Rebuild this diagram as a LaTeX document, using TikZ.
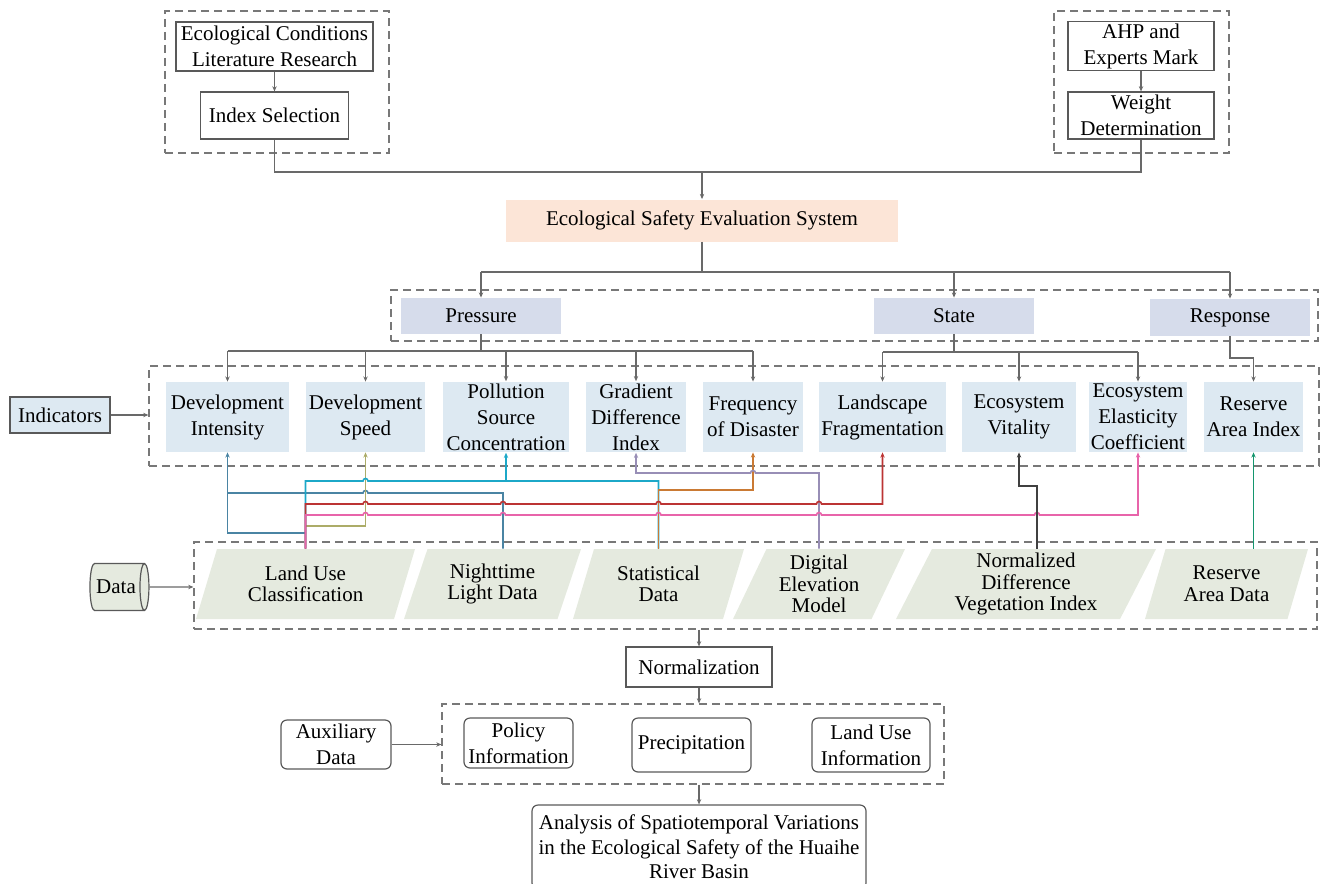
\documentclass[tikz,border=0pt]{standalone}
\usepackage{fontspec}
\setmainfont{Liberation Serif}
\usetikzlibrary{arrows.meta}
\usetikzlibrary{shapes.geometric}

\definecolor{boxgray}{RGB}{89,89,89}
\definecolor{dashgray}{RGB}{120,120,120}
\definecolor{wiregray}{RGB}{105,105,105}
\definecolor{peach}{RGB}{252,229,215}
\definecolor{psrfill}{RGB}{214,220,235}
\definecolor{indfill}{RGB}{221,233,242}
\definecolor{datafill}{RGB}{229,234,223}
\definecolor{steelc}{RGB}{74,132,163}
\definecolor{olivec}{RGB}{172,172,104}
\definecolor{cyanc}{RGB}{28,168,200}
\definecolor{orangec}{RGB}{202,122,52}
\definecolor{lavc}{RGB}{152,142,182}
\definecolor{redc}{RGB}{188,52,52}
\definecolor{pinkc}{RGB}{232,100,170}
\definecolor{darkc}{RGB}{64,64,64}
\definecolor{greenc}{RGB}{20,150,110}

\newcommand{\boxfont}{\fontsize{10.5}{13}\selectfont}
\newcommand{\datafont}{\fontsize{10.5}{10.8}\selectfont}
% small bump where a horizontal wire passes over a vertical one
\newcommand{\hop}[2]{-- ({#1-2.5},#2) arc[start angle=180,end angle=360,radius=2.5]}

\tikzset{
  box/.style={draw=boxgray, line width=0.6pt, align=center, inner sep=1pt, font=\boxfont},
  rbox/.style={box, rounded corners=3pt},
  fillbox/.style={fill=#1, align=center, inner sep=1pt, font=\boxfont},
  ind/.style={fillbox=indfill, minimum height=35pt, minimum width=#1},
  databox/.style={trapezium, trapezium left angle=60, trapezium right angle=120,
    trapezium stretches body, fill=datafill, minimum height=35pt, inner sep=0pt,
    align=center, font=\datafont},
  group/.style={draw=dashgray, line width=0.6pt, dash pattern=on 4pt off 2.5pt, inner sep=0pt},
  conn/.style={draw=wiregray, line width=0.6pt},
  arr/.style={conn, -{Stealth[length=2.6pt,width=2.2pt]}},
  wire/.style={line width=0.8pt},
  link/.style={wire, -{Stealth[length=2.6pt,width=2.2pt]}},
  linkback/.style={wire, {Stealth[length=2.6pt,width=2.2pt]}-},
}

\begin{document}
\begin{tikzpicture}[x=0.5pt, y=-0.5pt]
\useasboundingbox (0,0) rectangle (1320,883);

% Index selection and weighting.
\node[group, minimum width=112pt, minimum height=71pt] (gsel) at (277,82) {};
\node[group, minimum width=87.5pt, minimum height=71pt] (gwgt) at (1141.5,82) {};
\node[box, minimum width=98.5pt, minimum height=24.5pt] (ecl) at (274.5,46.5) {Ecological Conditions\\Literature Research};
\node[box, minimum width=74pt, minimum height=23.5pt] (isel) at (274.5,115.5) {Index Selection};
\node[box, minimum width=73pt, minimum height=24pt] (ahp) at (1141,46) {AHP and\\Experts Mark};
\node[box, minimum width=73pt, minimum height=23.5pt] (wdet) at (1141,115.5) {Weight\\Determination};
\draw[arr] (ecl) -- (isel);
\draw[arr] (ahp) -- (wdet);

% Evaluation system and the PSR layer.
\node[fillbox=peach, minimum width=196pt, minimum height=21pt] (eses) at (702,220.5) {Ecological Safety Evaluation System};
\draw[conn] (isel.south) |- (wdet.south |- 0,172) -- (wdet.south);
\draw[arr] (eses.north |- 0,172) -- (eses.north);

\node[group, minimum width=463.5pt, minimum height=25.5pt] (gpsr) at (854.5,315.5) {};
\node[fillbox=psrfill, minimum width=80pt, minimum height=18pt] (pres) at (481,316) {Pressure};
\node[fillbox=psrfill, minimum width=80pt, minimum height=18pt] (state) at (954,316) {State};
\node[fillbox=psrfill, minimum width=80pt, minimum height=18.5pt] (resp) at (1230,317.5) {Response};
\draw[conn] (eses.south) -- (eses.south |- 0,272);
\draw[conn] (pres.north |- 0,272) -- (resp.north |- 0,272);
\foreach \n in {pres,state,resp}
  \draw[arr] (\n.north |- 0,272) -- (\n.north);

% Indicator layer.
\node[group, minimum width=585pt, minimum height=50pt] (gind) at (734,416) {};
\node[box, fill=indfill, minimum width=50pt, minimum height=18pt] (indic) at (60,415) {Indicators};
\draw[arr] (indic) -- (indic -| gind.west);

\node[ind=61.5pt] (di) at (227.5,417) {Development\\Intensity};
\node[ind=59.5pt] (ds) at (365.5,417) {Development\\Speed};
\node[ind=63pt] (psc) at (506,417) {Pollution\\Source\\Concentration};
\node[ind=50pt] (gdi) at (636,417) {Gradient\\Difference\\Index};
\node[ind=50pt] (fod) at (753,417) {Frequency\\of Disaster};
\node[ind=63.5pt] (lf) at (882.5,417) {Landscape\\Fragmentation};
\node[ind=57pt] (ev) at (1019,417) {Ecosystem\\Vitality};
\node[ind=49pt] (eec) at (1138,417) {Ecosystem\\Elasticity\\Coefficient};
\node[ind=49.5pt] (rai) at (1253.5,417) {Reserve\\Area Index};

\draw[conn] (pres.south) -- (pres.south |- 0,351);
\draw[conn] (di.north |- 0,351) -- (fod.north |- 0,351);
\foreach \n in {di,ds,psc,gdi,fod}
  \draw[arr] (\n.north |- 0,351) -- (\n.north);
\draw[conn] (state.south) -- (state.south |- 0,352);
\draw[conn] (lf.north |- 0,352) -- (eec.north |- 0,352);
\foreach \n in {lf,ev,eec}
  \draw[arr] (\n.north |- 0,352) -- (\n.north);
\draw[arr] (resp.south) |- (rai.north |- 0,358) -- (rai.north);

% Data layer.
\node[group, minimum width=561.5pt, minimum height=43.5pt] (gdata) at (755.5,585.5) {};
\node[cylinder, draw=boxgray, line width=0.6pt, fill=datafill, shape aspect=0.5,
  minimum width=23.5pt, minimum height=29.5pt, inner sep=1pt, font=\boxfont] (data) at (116,587) {Data};
\draw[arr] (data) -- (data -| gdata.west);

\node[databox, minimum width=109.5pt] (luc) at (305.5,584) {Land Use\\Classification};
\node[databox, minimum width=88.5pt] (nld) at (492.5,584) {Nighttime\\Light Data};
\node[databox, minimum width=85.5pt] (sd) at (658.5,584) {Statistical\\Data};
\node[databox, minimum width=86pt] (dem) at (819,584) {Digital\\Elevation\\Model};
\node[databox, minimum width=130pt] (ndvi) at (1026,584) {Normalized\\Difference\\Vegetation Index};
\node[databox, minimum width=81.5pt] (rad) at (1226.5,584) {Reserve\\Area Data};

% Data-to-indicator wiring; horizontals hop over the verticals they cross.
\draw[link, steelc] (luc |- luc.north) |- (di.south |- 0,533) -- (di.south);
\draw[wire, steelc] (di.south |- 0,493) \hop{365.5}{493} -| (503,0 |- nld.north);
\draw[link, olivec] (luc |- luc.north) |- (ds.south |- 0,526) -- (ds.south);
\draw[wire, cyanc] (luc |- luc.north) -- (luc |- 0,481) \hop{365.5}{481} -| (sd |- sd.north);
\draw[link, cyanc] (psc.south |- 0,481) -- (psc.south);
\draw[link, orangec] (sd |- sd.north) |- (fod.south |- 0,490) -- (fod.south);
\draw[linkback, lavc] (gdi.south) -- (gdi.south |- 0,473) \hop{753}{473} -| (dem |- dem.north);
\draw[link, redc] (luc |- luc.north) -- (luc |- 0,504) \hop{365.5}{504} \hop{503}{504}
  \hop{658.5}{504} \hop{819}{504} -| (lf.south);
\draw[link, pinkc] (luc |- luc.north) -- (luc |- 0,515) \hop{365.5}{515} \hop{503}{515}
  \hop{658.5}{515} \hop{819}{515} \hop{1037}{515} -| (eec.south);
\draw[link, darkc] (1037,0 |- ndvi.north) |- (ev.south |- 0,486) -- (ev.south);
\draw[link, greenc] (rai.south |- rad.north) -- (rai.south);

% Normalization, auxiliary data and the final analysis.
\node[box, minimum width=73pt, minimum height=20pt] (norm) at (699,667) {Normalization};
\draw[arr] (norm.north |- gdata.south) -- (norm.north);

\node[group, minimum width=251pt, minimum height=40pt] (gaux) at (693,744) {};
\draw[arr] (norm.south) -- (norm.south |- gaux.north);
\node[rbox, minimum width=55pt, minimum height=24.5pt] (auxd) at (336,744.5) {Auxiliary\\Data};
\draw[arr] (auxd) -- (auxd -| gaux.west);
\node[rbox, minimum width=54.5pt, minimum height=25pt] (pol) at (518.5,743) {Policy\\Information};
\node[rbox, minimum width=59.5pt, minimum height=27pt] (prec) at (691.5,745) {Precipitation};
\node[rbox, minimum width=59pt, minimum height=27pt] (lui) at (871,745) {Land Use\\Information};

\node[rbox, font=\fontsize{10.5}{12.3}\selectfont, minimum width=167pt, minimum height=42pt] (ana) at (699,847)
  {Analysis of Spatiotemporal Variations\\in the Ecological Safety of the Huaihe\\River Basin};
\draw[arr] (ana.north |- gaux.south) -- (ana.north);
\end{tikzpicture}
\end{document}
